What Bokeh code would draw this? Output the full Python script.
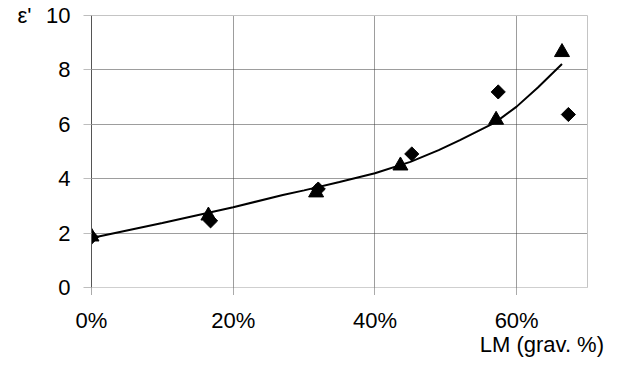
import numpy as np
from bokeh.plotting import figure
from bokeh.models import (Range1d, FixedTicker, NumeralTickFormatter, LinearAxis,
                          CustomJSTickFormatter)
from bokeh.embed import file_html
from bokeh.resources import INLINE

# Data
tri_x = [0.0, 0.165, 0.317, 0.436, 0.571, 0.664]
tri_y = [1.87, 2.64, 3.49, 4.48, 6.16, 8.65]
dia_x = [0.0, 0.168, 0.320, 0.452, 0.574, 0.673]
dia_y = [1.85, 2.45, 3.62, 4.91, 7.19, 6.36]
fit_x = [0.0, 0.10, 0.20, 0.27, 0.30, 0.35, 0.40, 0.45, 0.49, 0.52, 0.57, 0.60, 0.63, 0.664]
fit_y = [1.82, 2.37, 2.95, 3.40, 3.57, 3.88, 4.20, 4.62, 5.05, 5.42, 6.07, 6.65, 7.35, 8.22]
x_ticks = [0.0, 0.2, 0.4, 0.6]
y_ticks = [0, 2, 4, 6, 8, 10]
y_title = "ε'"
x_title = "LM (grav. %)"

FONT = "Liberation Sans"
FS = "22px"

p = figure(output_backend="svg", toolbar_location=None,
           frame_width=496, frame_height=272,
           min_border_left=91, min_border_top=15, min_border_right=29, min_border_bottom=74,
           x_range=Range1d(0, 0.7), y_range=Range1d(0, 10))
p.background_fill_color = "white"
p.border_fill_color = "white"
p.outline_line_color = "#c4c4c4"
p.outline_line_width = 1

# grids
p.xgrid.ticker = FixedTicker(ticks=[0.2, 0.4, 0.6])
p.ygrid.ticker = FixedTicker(ticks=[2, 4, 6, 8])
for g in (p.xgrid, p.ygrid):
    g.grid_line_color = "#3a3a3a"
    g.grid_line_dash = "1 1"
    g.grid_line_width = 1

# x axis
xa = p.xaxis[0]
xa.ticker = FixedTicker(ticks=x_ticks)
xa.formatter = NumeralTickFormatter(format="0%")
xa.axis_line_color = "#cfcfcf"
xa.major_tick_line_color = "#555555"
xa.major_tick_line_dash = "1 1"
xa.major_tick_in = 0
xa.major_tick_out = 7
xa.minor_tick_line_color = None
xa.major_label_standoff = 13
xa.major_label_text_font = FONT
xa.major_label_text_font_size = FS
xa.major_label_text_color = "black"

# y axis
ya = p.yaxis[0]
ya.ticker = FixedTicker(ticks=y_ticks)
ya.axis_line_color = "#555555"
ya.major_tick_line_color = "#bdbdbd"
ya.major_tick_in = 0
ya.major_tick_out = 8
ya.minor_tick_line_color = None
ya.major_label_standoff = 13
ya.major_label_text_font = FONT
ya.major_label_text_font_size = FS
ya.major_label_text_color = "black"

# title axes (texts placed like the reference's axis titles)
def title_axis(tick, text, standoff):
    ax = LinearAxis(ticker=FixedTicker(ticks=[tick]),
                    formatter=CustomJSTickFormatter(args=dict(t=text), code="return t;"))
    ax.axis_line_color = None
    ax.major_tick_line_color = None
    ax.minor_tick_line_color = None
    ax.major_tick_in = 0
    ax.major_tick_out = 0
    ax.major_label_standoff = standoff
    ax.major_label_text_font = FONT
    ax.major_label_text_font_size = FS
    ax.major_label_text_color = "black"
    return ax

p.add_layout(title_axis(10, y_title, 12), "left")
p.add_layout(title_axis(0.6356, x_title, -4), "below")

# fitted curve
p.line(fit_x, fit_y, line_color="black", line_width=2)

# points
p.scatter(dia_x, dia_y, marker="square", angle=np.pi / 4, size=10,
          fill_color="black", line_color="black")
p.scatter(tri_x, tri_y, marker="triangle", size=15,
          fill_color="black", line_color="black")

open("out.html", "w").write(file_html(p, INLINE))
